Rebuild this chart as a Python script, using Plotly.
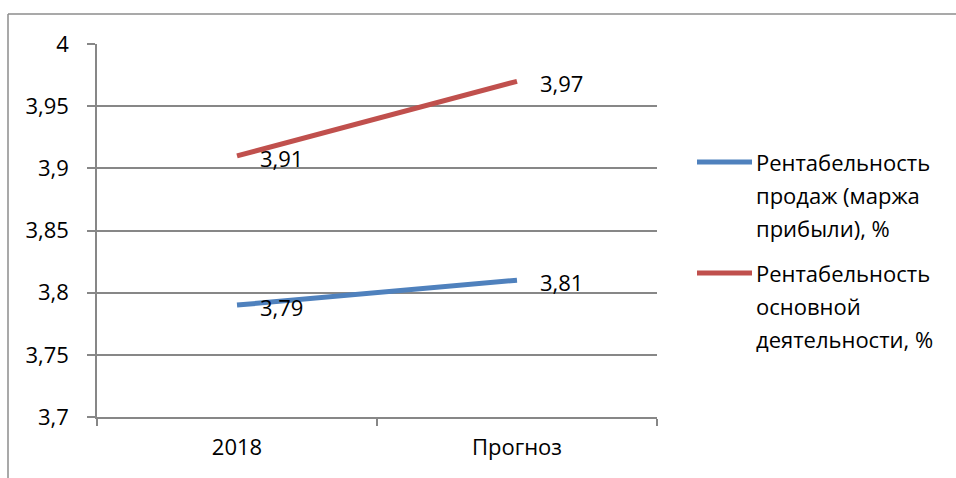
import plotly.graph_objects as go

categories = ["2018", "Прогноз"]
series_names = ["Рентабельность\nпродаж (маржа\nприбыли), %",
                "Рентабельность\nосновной\nдеятельности, %"]
sales_margin = [3.79, 3.81]
core_margin = [3.91, 3.97]
series_values = [sales_margin, core_margin]
series_colors = ["#4F81BD", "#C0504D"]
y_ticks = [3.7, 3.75, 3.8, 3.85, 3.9, 3.95, 4.0]


def fmt(v):
    s = f"{v:.2f}".rstrip("0").rstrip(".")
    return s.replace(".", ",")


FONT = "Open Sans"
FS = 22
GRID = "#878787"

# plot-area geometry (pixels)
L, R, T, B = 97, 657, 44, 417
W, H = 956, 478
pw, ph = R - L, B - T


def px_x(x):
    return (x - L) / pw


def px_y(y):
    return (B - y) / ph


fig = go.Figure()
annotations = []
shapes = []
for name, vals, col in zip(series_names, series_values, series_colors):
    fig.add_trace(go.Scatter(
        x=categories, y=vals, mode="lines",
        line=dict(color=col, width=5),
        name=name.replace("\n", " "), showlegend=False,
        hoverinfo="skip",
    ))
    for idx, v in enumerate(vals):
        annotations.append(dict(
            x=idx, y=v, xref="x", yref="y", text=fmt(v), showarrow=False,
            xanchor="left", yanchor="middle", xshift=21, yshift=-2,
            font=dict(family=FONT, size=FS, color="#000000"),
        ))

# manual legend
legend_top = [162, 273]
line_gap = 33
for i, (name, col) in enumerate(zip(series_names, series_colors)):
    y0 = legend_top[i]
    shapes.append(dict(type="line", xref="paper", yref="paper",
                       x0=px_x(697), x1=px_x(752), y0=px_y(y0), y1=px_y(y0),
                       line=dict(color=col, width=5)))
    for j, ln in enumerate(name.split("\n")):
        annotations.append(dict(
            x=px_x(754), y=px_y(y0 + j * line_gap), xref="paper", yref="paper",
            text=ln, showarrow=False, xanchor="left", yanchor="middle",
            font=dict(family=FONT, size=FS, color="#000000"),
        ))

# outer chart frame (left and top edges visible)
shapes.append(dict(type="line", xref="paper", yref="paper",
                   x0=px_x(8), x1=px_x(8), y0=px_y(14), y1=px_y(478),
                   line=dict(color="#8C8C8C", width=1.5)))
shapes.append(dict(type="line", xref="paper", yref="paper",
                   x0=px_x(8), x1=px_x(956), y0=px_y(14), y1=px_y(14),
                   line=dict(color="#8C8C8C", width=1.5)))

fig.update_layout(
    width=W, height=H,
    margin=dict(l=L, r=W - R, t=T, b=H - B),
    paper_bgcolor="white", plot_bgcolor="white",
    font=dict(family=FONT, size=FS, color="#000000"),
    showlegend=False,
    annotations=annotations, shapes=shapes,
    xaxis=dict(
        type="category", range=[-0.5, 1.5],
        showgrid=False, showline=True, linecolor=GRID, linewidth=1.5,
        ticks="outside", tickson="boundaries", ticklen=7, tickcolor=GRID,
        tickwidth=1.5, ticklabelstandoff=10,
        tickfont=dict(family=FONT, size=FS, color="#000000"),
        zeroline=False,
    ),
    yaxis=dict(
        range=[3.7, 4.0], tickvals=y_ticks, ticktext=[fmt(v) for v in y_ticks],
        showgrid=True, gridcolor=GRID, gridwidth=1.5,
        showline=True, linecolor=GRID, linewidth=1.5,
        ticks="outside", ticklen=8, tickcolor=GRID, tickwidth=1.5,
        ticklabelstandoff=14,
        tickfont=dict(family=FONT, size=FS, color="#000000"),
        zeroline=False,
    ),
)

fig.write_html("out.html")
